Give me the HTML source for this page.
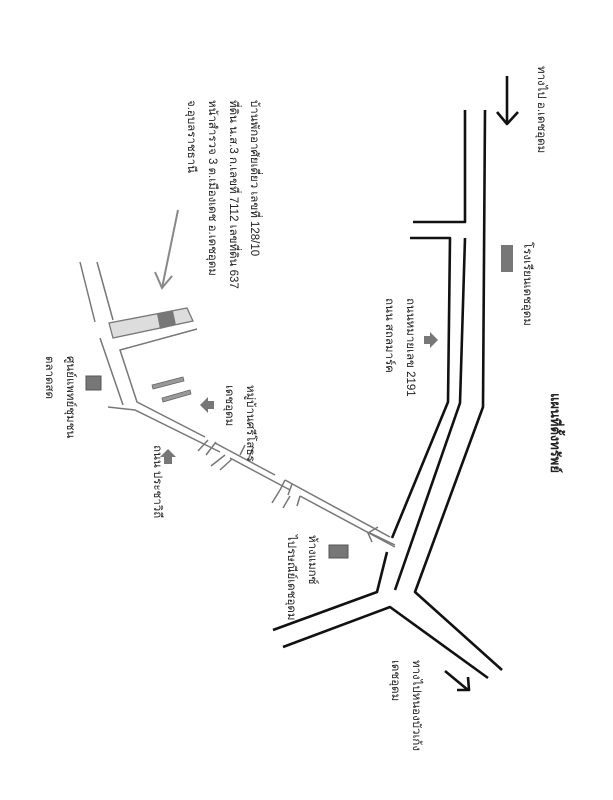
<!DOCTYPE html>
<html><head><meta charset="utf-8"><style>
html,body{margin:0;padding:0;background:#fff;}
#c{position:relative;width:613px;height:800px;overflow:hidden;background:#fff;}
svg{position:absolute;left:0;top:0;}
.t{position:absolute;writing-mode:vertical-rl;font-family:"Liberation Sans","Noto Sans CJK SC",sans-serif;font-size:11.5px;color:#222;white-space:nowrap;line-height:21px;}
</style></head><body><div id="c">
<svg width="613" height="800" viewBox="0 0 613 800">
<g fill="none" stroke="#111" stroke-width="2.6" stroke-linejoin="round">
<polyline points="485,110 483,407 415,592 502,670"/>
<polyline points="413,222 465,222 465,110"/>
<polyline points="465,238 460,403 395,590"/>
<polyline points="410,238 450,238 448,402 392,538"/>
<polyline points="387,552 377,592 273,630"/>
<polyline points="283,647 390,607 488,678"/>
<line x1="507" y1="76" x2="507" y2="124"/>
<polyline points="497,112 507,124 518,112"/>
<line x1="445" y1="671" x2="468" y2="690"/>
<polyline points="457,690 469,690 468,677"/>
</g>
<g fill="none" stroke="#777" stroke-width="1.5">
<polyline points="390,537 285,480"/><polyline points="275,475 215,443"/><polyline points="205,437 137,402 120,350 197,329"/>
<polyline points="395,547 300,496"/><polyline points="290,490 230,458"/><polyline points="220,452 135,410 108,407"/>
<polyline points="123,405 100,338"/><polyline points="95,322 80,262"/>
<polyline points="113,320 97,262"/>
<line x1="208" y1="440" x2="198" y2="451"/><line x1="216" y1="442" x2="206" y2="455"/>
<line x1="225" y1="455" x2="211" y2="466"/><line x1="232" y1="459" x2="220" y2="470"/>
<line x1="245" y1="445" x2="240" y2="455"/><line x1="253" y1="448" x2="248" y2="460"/>
<line x1="285" y1="480" x2="280" y2="490"/><line x1="292" y1="484" x2="288" y2="495"/>
<line x1="280" y1="490" x2="272" y2="503"/><line x1="290" y1="496" x2="283" y2="508"/>
<line x1="300" y1="496" x2="297" y2="506"/>
<polyline points="395,545 370,533"/><polyline points="378,527 368,533 372,542"/>
</g>
<g fill="none" stroke="#888" stroke-width="2">
<line x1="178" y1="210" x2="162" y2="288"/><polyline points="155,272 162,288 172,276"/>
</g>
<polygon points="109,323 187,308 193,321 113,338" fill="#ddd" stroke="#777" stroke-width="1.3"/>
<polygon points="157,314 173,311 176,325 160,329" fill="#777"/>
<polygon points="152,385 183,377 184,381 153,389" fill="#999" stroke="#666" stroke-width="0.8"/>
<polygon points="162,398 190,390 191,394 163,402" fill="#999" stroke="#666" stroke-width="0.8"/>
<rect x="501" y="245" width="12" height="27" fill="#777"/>
<rect x="329" y="545" width="19" height="13" fill="#777" stroke="#555"/>
<rect x="86" y="376" width="15" height="14" fill="#777" stroke="#555"/>
<polygon points="438,340 430,332 430,336 424,336 424,344 430,344 430,348" fill="#777"/>
<polygon points="200,405 208,397 208,401 214,401 214,409 208,409 208,413" fill="#777"/>
<polygon points="168,449 160,457 164,457 164,464 172,464 172,457 176,457" fill="#777"/>
</svg>
<div class="t" style="left:180px;top:100px;">บ้านพักอาศัยเดี่ยว เลขที่ 128/10<br>ที่ดิน น.ส.3 ก.เลขที่ 7112 เลขที่ดิน 637<br>หน้าสำรวจ 3 ต.เมืองเดช อ.เดชอุดม<br>จ.อุบลราชธานี</div>
<div class="t" style="left:530px;top:66px;">ทางไป อ.เดชอุดม</div>
<div class="t" style="left:516px;top:242px;">โรงเรียนเดชอุดม</div>
<div class="t" style="left:378px;top:298px;">ถนนหมายเลข 2191<br>ถนน สถลมาร์ค</div>
<div class="t" style="left:545px;top:393px;font-weight:bold;font-size:13px;">แผนที่ตั้งทรัพย์</div>
<div class="t" style="left:218px;top:385px;">หมู่บ้านศรีโสธร<br>เดชอุดม</div>
<div class="t" style="left:146px;top:445px;">ถนน ประชาวิถี</div>
<div class="t" style="left:38px;top:356px;">ศูนย์แพทย์ชุมชน<br>ตลาดสด</div>
<div class="t" style="left:280px;top:535px;">ห้างแมกซ์<br>ไปรษณีย์เดชอุดม</div>
<div class="t" style="left:384px;top:660px;">ทางไปหนองบัวเก้ง<br>เดชอุดม</div>
</div></body></html>
